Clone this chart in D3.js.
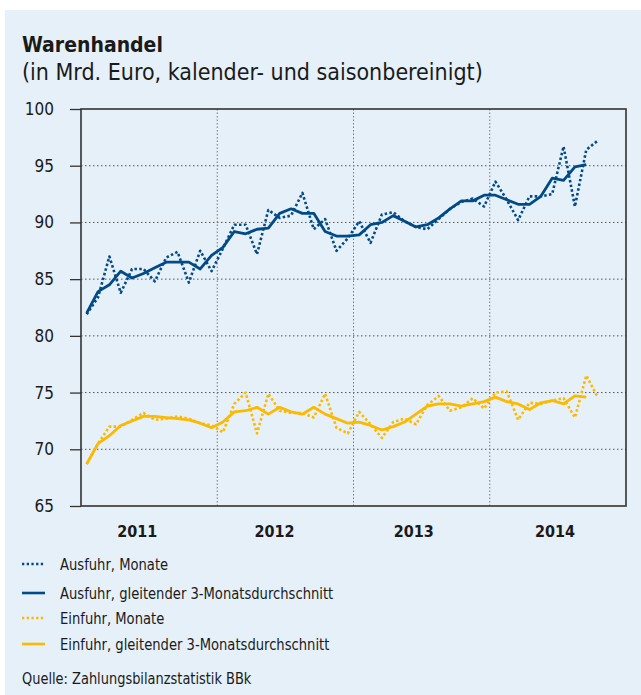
<!DOCTYPE html>
<html>
<head>
<meta charset="utf-8">
<script src="https://cdn.jsdelivr.net/npm/d3@7/dist/d3.min.js"></script>
<style>
  body { margin: 0; background: #fff; }
  svg text { font-family: "DejaVu Sans Condensed", "Liberation Sans Narrow", "Noto Sans", sans-serif; fill: #1a1a1a; }
</style>
</head>
<body>
<svg id="chart" width="641" height="695"></svg>
<script>
// Monatswerte Jan 2011 .. Okt 2014 (Mrd. Euro)
var ausfuhrMonate = [81.9, 83.4, 87.0, 83.8, 85.9, 85.9, 84.8, 86.9, 87.4, 84.7, 87.5, 85.7,
                     87.7, 89.8, 89.8, 87.2, 91.1, 90.4, 90.6, 92.6, 89.4, 90.3, 87.5, 88.6,
                     90.1, 88.2, 90.7, 90.9, 90.1, 89.6, 89.4, 90.3, 91.2, 91.8, 92.1, 91.4,
                     93.6, 92.0, 90.2, 92.3, 92.3, 92.5, 96.7, 91.4, 96.4, 97.2];
var ausfuhrSchnitt = [82.0, 83.9, 84.5, 85.7, 85.1, 85.5, 86.0, 86.5, 86.5, 86.5, 85.9, 87.1,
                      87.8, 89.2, 89.0, 89.4, 89.5, 90.8, 91.2, 90.8, 90.8, 89.2, 88.8, 88.8,
                      88.9, 89.8, 90.0, 90.6, 90.1, 89.6, 89.8, 90.4, 91.2, 91.9, 91.9, 92.4,
                      92.4, 92.0, 91.6, 91.6, 92.3, 93.9, 93.7, 94.9, 95.1];
var einfuhrMonate = [68.7, 70.5, 72.0, 72.0, 72.6, 73.2, 72.6, 72.7, 72.9, 72.7, 72.3, 72.1,
                     71.5, 74.0, 75.0, 71.4, 74.9, 73.4, 73.2, 73.2, 72.8, 74.9, 71.9, 71.4,
                     73.3, 72.2, 71.0, 72.4, 72.7, 72.2, 73.9, 74.7, 73.4, 73.7, 74.5, 73.6,
                     75.0, 75.1, 72.6, 74.1, 74.0, 74.3, 74.5, 72.8, 76.5, 74.6];
var einfuhrSchnitt = [68.7, 70.5, 71.2, 72.1, 72.5, 72.9, 72.9, 72.8, 72.7, 72.6, 72.3, 71.9,
                      72.4, 73.3, 73.4, 73.7, 73.1, 73.7, 73.3, 73.1, 73.7, 73.1, 72.7, 72.3,
                      72.4, 72.1, 71.7, 72.0, 72.4, 73.1, 73.8, 74.0, 74.0, 73.8, 74.0, 74.2,
                      74.6, 74.2, 74.0, 73.5, 74.1, 74.3, 74.0, 74.7, 74.6];
var jahre = ["2011", "2012", "2013", "2014"];
var yTicks = [65, 70, 75, 80, 85, 90, 95, 100];

var blau = "#004b87", gelb = "#fbb900";

var svg = d3.select("#chart");

svg.append("rect")
    .attr("x", 5).attr("y", 10)
    .attr("width", 636).attr("height", 685)
    .attr("fill", "#e6f0f8");

svg.append("text").attr("x", 22).attr("y", 52)
    .style("font-size", "21px").style("font-weight", "bold")
    .text("Warenhandel");
svg.append("text").attr("x", 22).attr("y", 80)
    .style("font-size", "23px")
    .text("(in Mrd. Euro, kalender- und saisonbereinigt)");

var pLeft = 81, pRight = 626, pTop = 109, pBottom = 506;

// ein Monat je Einheit, Jan 2011 = 0
var x = d3.scaleLinear().domain([-0.5, 47.5]).range([pLeft, pRight]);
var y = d3.scaleLinear().domain([65, 100]).range([pBottom, pTop]);

// horizontale Gitterlinien
svg.append("g")
  .selectAll("line")
  .data(yTicks.slice(1, -1))
  .enter().append("line")
    .attr("x1", pLeft).attr("x2", pRight)
    .attr("y1", function(d) { return y(d); })
    .attr("y2", function(d) { return y(d); })
    .attr("stroke", "#555")
    .attr("stroke-width", 1)
    .attr("stroke-dasharray", "1.5,2.5");

// Jahresgrenzen
svg.append("g")
  .selectAll("line")
  .data([1, 2, 3])
  .enter().append("line")
    .attr("x1", function(d) { return x(d * 12 - 0.5); })
    .attr("x2", function(d) { return x(d * 12 - 0.5); })
    .attr("y1", pTop).attr("y2", pBottom)
    .attr("stroke", "#777")
    .attr("stroke-width", 1)
    .attr("stroke-dasharray", "1.5,2");

// y-Achse
var yAxis = svg.append("g")
    .attr("transform", "translate(" + pLeft + ",0)")
    .call(d3.axisLeft(y).tickValues(yTicks).tickSize(11).tickPadding(16));
yAxis.select(".domain").remove();
yAxis.selectAll(".tick line").attr("stroke", "#333").attr("stroke-width", 1.3);
yAxis.selectAll(".tick text")
    .style("font-size", "17px")
    .style("font-family", "\"DejaVu Sans Condensed\", \"Liberation Sans Narrow\", sans-serif")
    .attr("fill", "#1a1a1a");

// Rahmen
svg.append("rect")
    .attr("x", pLeft).attr("y", pTop)
    .attr("width", pRight - pLeft).attr("height", pBottom - pTop)
    .attr("fill", "none")
    .attr("stroke", "#333")
    .attr("stroke-width", 1.6);

// Jahresbeschriftung
svg.append("g")
  .selectAll("text")
  .data(jahre)
  .enter().append("text")
    .attr("x", function(d, i) { return x(i * 12 + 4.45) + i * i; })
    .attr("y", 537)
    .attr("text-anchor", "middle")
    .style("font-size", "16px").style("font-weight", "bold")
    .text(function(d) { return d; });

var line = d3.line()
    .x(function(d, i) { return x(i); })
    .y(function(d) { return y(d); });

function zeichne(werte, farbe, gepunktet) {
  svg.append("path")
      .datum(werte)
      .attr("d", line)
      .attr("fill", "none")
      .attr("stroke", farbe)
      .attr("stroke-width", gepunktet ? 2.6 : 2.8)
      .attr("stroke-linejoin", "round")
      .attr("stroke-dasharray", gepunktet ? "2.5,2.3" : null);
}

zeichne(einfuhrMonate, gelb, true);
zeichne(einfuhrSchnitt, gelb, false);
zeichne(ausfuhrMonate, blau, true);
zeichne(ausfuhrSchnitt, blau, false);

// Legende
var legende = [
  {text: "Ausfuhr, Monate", farbe: blau, gepunktet: true, y: 564},
  {text: "Ausfuhr, gleitender 3-Monatsdurchschnitt", farbe: blau, gepunktet: false, y: 593},
  {text: "Einfuhr, Monate", farbe: gelb, gepunktet: true, y: 618},
  {text: "Einfuhr, gleitender 3-Monatsdurchschnitt", farbe: gelb, gepunktet: false, y: 644}
];
var lg = svg.append("g").selectAll("g").data(legende).enter().append("g");
lg.append("line")
    .attr("x1", 22).attr("x2", 45)
    .attr("y1", function(d) { return d.y; })
    .attr("y2", function(d) { return d.y; })
    .attr("stroke", function(d) { return d.farbe; })
    .attr("stroke-width", function(d) { return d.gepunktet ? 2.4 : 2.6; })
    .attr("stroke-dasharray", function(d) { return d.gepunktet ? "2.3,2.4" : null; });
lg.append("text")
    .attr("transform", function(d) { return "translate(60," + (d.y + 6) + ") scale(0.885,1)"; })
    .style("font-size", "16.5px")
    .text(function(d) { return d.text; });

svg.append("text")
    .attr("transform", "translate(22,684) scale(0.885,1)")
    .style("font-size", "16.3px")
    .text("Quelle: Zahlungsbilanzstatistik BBk");
</script>
</body>
</html>
